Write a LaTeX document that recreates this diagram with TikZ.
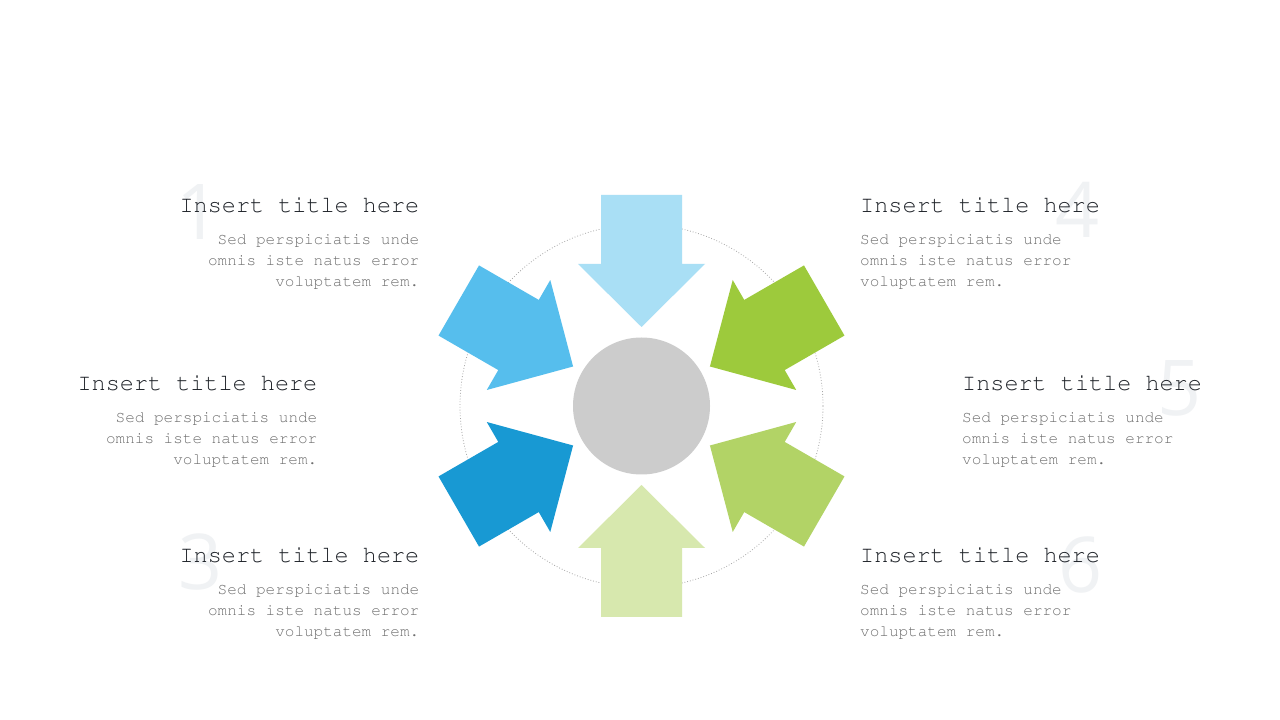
\documentclass[tikz,border=0pt]{standalone}
\usepackage[T1]{fontenc}
\usepackage{fontspec}
\setmonofont{Liberation Mono}
\newfontfamily\numfont{Open Sans}
\newcommand{\courfont}{\fontencoding{T1}\fontfamily{pcr}\fontseries{m}\fontshape{n}}
\definecolor{cA}{HTML}{A9DFF5}
\definecolor{cB}{HTML}{56BEED}
\definecolor{cC}{HTML}{1899D3}
\definecolor{cD}{HTML}{D7E8AE}
\definecolor{cE}{HTML}{B2D366}
\definecolor{cF}{HTML}{9DCA3C}
\definecolor{hub}{HTML}{CCCCCC}
\definecolor{titlecol}{HTML}{1E2228}
\definecolor{bodycol}{HTML}{6E6E6E}
\definecolor{numcol}{HTML}{F0F2F4}
\tikzset{
  titletext/.style={inner sep=0pt, font=\courfont\fontsize{23.5}{28}\selectfont, text=titlecol},
  bodyR/.style={inner sep=0pt, align=right, font=\courfont\fontsize{16}{21}\selectfont, text=bodycol, anchor=north east},
  bodyL/.style={inner sep=0pt, align=left, font=\courfont\fontsize{16}{21}\selectfont, text=bodycol, anchor=north west},
  bignum/.style={inner sep=0pt, anchor=base, font=\numfont\fontsize{77}{80}\selectfont, text=numcol},
}
\newcommand{\inarrow}[2]{%
  \fill[#2, rotate around={#1:(c)}] ($(c)+(79,0)$) -- ($(c)+(142,63.5)$) -- ($(c)+(142,40.5)$) -- ($(c)+(211,40.5)$) -- ($(c)+(211,-40.5)$) -- ($(c)+(142,-40.5)$) -- ($(c)+(142,-63.5)$) -- cycle;}
\usetikzlibrary{calc}
\begin{document}
\begin{tikzpicture}[x=1pt,y=1pt]
\useasboundingbox (0,0) rectangle (1280,720);
\fill[white] (0,0) rectangle (1280,720);
\coordinate (c) at (641.5,314);
% numbers
\node[bignum] (n1) at (199,480) {1};
\node[bignum] (n3) at (201,130) {3};
\node[bignum] (n4) at (1078,482) {4};
\node[bignum] (n5) at (1180,304) {5};
\node[bignum] (n6) at (1081,127) {6};
% dotted ring
\draw[gray!70, dotted, line width=0.8pt] (c) circle (181.5);
% arrows
\inarrow{90}{cA}
\inarrow{150}{cB}
\inarrow{210}{cC}
\inarrow{270}{cD}
\inarrow{330}{cE}
\inarrow{30}{cF}
% hub
\node[circle, fill=hub, minimum size=137pt, inner sep=0pt] (hubc) at (c) {};
% texts left
\node[titletext, anchor=base east] (t1) at (419.5,507) {Insert title here};
\node[bodyR] (b1) at (419.5,486) {Sed perspiciatis unde\\omnis iste natus error\\voluptatem rem.};
\node[titletext, anchor=base east] (t2) at (317.5,329) {Insert title here};
\node[bodyR] (b2) at (317.5,308) {Sed perspiciatis unde\\omnis iste natus error\\voluptatem rem.};
\node[titletext, anchor=base east] (t3) at (419.5,157) {Insert title here};
\node[bodyR] (b3) at (419.5,136) {Sed perspiciatis unde\\omnis iste natus error\\voluptatem rem.};
% texts right
\node[titletext, anchor=base west] (t4) at (860,507) {Insert title here};
\node[bodyL] (b4) at (860,486) {Sed perspiciatis unde\\omnis iste natus error\\voluptatem rem.};
\node[titletext, anchor=base west] (t5) at (962,329) {Insert title here};
\node[bodyL] (b5) at (962,308) {Sed perspiciatis unde\\omnis iste natus error\\voluptatem rem.};
\node[titletext, anchor=base west] (t6) at (860,157) {Insert title here};
\node[bodyL] (b6) at (860,136) {Sed perspiciatis unde\\omnis iste natus error\\voluptatem rem.};
\end{tikzpicture}
\end{document}
